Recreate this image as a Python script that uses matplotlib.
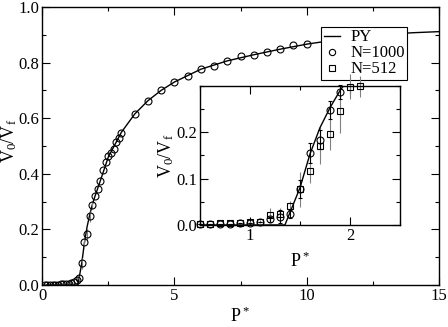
import numpy as np
import matplotlib
matplotlib.use("Agg")
import matplotlib.pyplot as plt
from matplotlib.ticker import MultipleLocator
from matplotlib.lines import Line2D

plt.rcParams['font.family'] = ['Liberation Serif', 'DejaVu Serif']
plt.rcParams['mathtext.fontset'] = 'custom'
plt.rcParams['mathtext.rm'] = 'Liberation Serif'
plt.rcParams['mathtext.default'] = 'rm'

# PY theory curve
py_x = [0, 1.35, 1.5, 1.6, 1.7, 1.8, 1.9, 2.0, 2.2, 2.5, 3.0, 3.5, 4.0, 4.5, 5,
        6, 7, 8, 9, 10, 11, 12, 13, 14, 15]
py_y = [0, 0, 0.08, 0.153, 0.21, 0.253, 0.29, 0.32, 0.375, 0.46, 0.55, 0.615, 0.663, 0.70, 0.73,
        0.776, 0.806, 0.828, 0.848, 0.866, 0.88, 0.892, 0.901, 0.907, 0.911]

# N=1000 simulation
n1000_x = [0.1, 0.2, 0.3, 0.4, 0.5, 0.6, 0.7, 0.8, 0.9, 1.0, 1.1, 1.2, 1.3, 1.4,
           1.5, 1.6, 1.7, 1.8, 1.9, 2.0, 2.1, 2.2, 2.3, 2.4, 2.5, 2.6, 2.7, 2.8, 2.9, 3.0,
           3.5, 4.0, 4.5, 5.0, 5.5, 6.0, 6.5, 7.0, 7.5, 8.0, 8.5, 9.0, 9.5, 10.0]
n1000_y = [0.0, 0.0, 0.001, 0.001, 0.002, 0.002, 0.003, 0.003, 0.004, 0.005, 0.006, 0.012, 0.018, 0.024,
           0.078, 0.155, 0.184, 0.248, 0.287, 0.319, 0.347, 0.374, 0.414, 0.441, 0.464, 0.476, 0.488, 0.514, 0.529, 0.548,
           0.615, 0.663, 0.700, 0.731, 0.753, 0.778, 0.788, 0.807, 0.822, 0.827, 0.837, 0.849, 0.862, 0.868]
n1000_err = [0, 0, 0, 0, 0, 0, 0, 0, 0, 0, 0, 0.006, 0.014, 0.008,
             0.02, 0.022, 0.02, 0.02, 0.015, 0, 0, 0, 0, 0, 0, 0, 0, 0, 0, 0,
             0, 0, 0, 0, 0, 0, 0, 0, 0, 0, 0, 0, 0, 0]

# N=512 simulation
n512_x = [0.5, 0.6, 0.7, 0.8, 0.9, 1.0, 1.1, 1.2, 1.3, 1.4, 1.5, 1.6, 1.7, 1.8, 1.9, 2.0, 2.1]
n512_y = [0.003, 0.003, 0.004, 0.004, 0.005, 0.006, 0.007, 0.022, 0.023, 0.041, 0.077, 0.117, 0.171, 0.197, 0.247, 0.298, 0.299]
n512_err = [0, 0, 0, 0, 0, 0.003, 0.003, 0.015, 0.014, 0.01, 0.038, 0.027, 0.04, 0.036, 0.048, 0.027, 0.023]

FS = 12
MS = 5

fig = plt.figure(figsize=(4.48, 3.27), dpi=100)
ax = fig.add_axes([0.094, 0.128, 0.886, 0.851])

def style(a):
    a.tick_params(which='both', direction='in', top=True, right=True, labelsize=FS, pad=2)
    a.tick_params(which='major', length=5.5, width=0.8)
    a.tick_params(which='minor', length=3, width=0.8)
    for s in a.spines.values():
        s.set_linewidth(1.0)

ax.plot(py_x, py_y, color='black', lw=1.0)
ax.errorbar(n1000_x, n1000_y, yerr=n1000_err, fmt='o', mfc='none', mec='black', ms=MS, mew=0.8,
            ecolor='grey', elinewidth=0.8)
ax.set_xlim(0, 15)
ax.set_ylim(0, 1.0)
ax.xaxis.set_major_locator(MultipleLocator(5))
ax.xaxis.set_minor_locator(MultipleLocator(2.5))
ax.yaxis.set_major_locator(MultipleLocator(0.2))
ax.yaxis.set_minor_locator(MultipleLocator(0.1))
ax.yaxis.set_major_formatter(plt.FormatStrFormatter('%.1f'))
ax.set_xlabel('P$^*$', fontsize=FS + 1)
ax.set_ylabel('V$_0$/V$_f$', fontsize=FS + 1)
ax.xaxis.set_label_coords(0.5, -0.078)
ax.yaxis.set_label_coords(-0.058, 0.52)
style(ax)

handles = [Line2D([], [], color='black', lw=1.0),
           Line2D([], [], ls='none', marker='o', mfc='none', mec='black', ms=MS - 0.5, mew=0.8),
           Line2D([], [], ls='none', marker='s', mfc='none', mec='black', ms=MS - 0.5, mew=0.8)]
leg = ax.legend(handles, ['PY', 'N=1000', 'N=512'], loc='upper right', bbox_to_anchor=(0.92, 0.928),
                fontsize=FS, frameon=True, fancybox=False, edgecolor='black', handlelength=1.0,
                handletextpad=0.6, borderpad=0.15, labelspacing=0.0, borderaxespad=0)
leg.get_frame().set_linewidth(0.8)
leg.set_zorder(5)
leg.get_frame().set_facecolor('white')
leg.get_frame().set_alpha(1)

ins = fig.add_axes([0.446, 0.312, 0.447, 0.425])
ins.plot(py_x, py_y, color='black', lw=1.0, zorder=3)
ins.errorbar(n512_x, n512_y, yerr=n512_err, fmt='s', mfc='none', mec='black', ms=MS, mew=0.8,
             ecolor='grey', elinewidth=0.8, zorder=2, clip_on=False)
ins.errorbar(n1000_x[4:19], n1000_y[4:19], yerr=n1000_err[4:19], fmt='o', mfc='none', mec='black', ms=MS,
             mew=0.8, ecolor='black', elinewidth=0.8, capsize=1.2, zorder=2, clip_on=False)
ins.set_xlim(0.5, 2.5)
ins.set_ylim(0, 0.3)
ins.xaxis.set_major_locator(MultipleLocator(1))
ins.xaxis.set_minor_locator(MultipleLocator(0.5))
ins.yaxis.set_minor_locator(MultipleLocator(0.05))
ins.set_yticks([0.0, 0.1, 0.2])
ins.yaxis.set_major_formatter(plt.FormatStrFormatter('%.1f'))
ins.set_xlabel('P$^*$', fontsize=FS + 1, labelpad=6)
ins.set_ylabel('V$_0$/V$_f$', fontsize=FS + 1, labelpad=0)
style(ins)

fig.savefig('out.png', dpi=100)
